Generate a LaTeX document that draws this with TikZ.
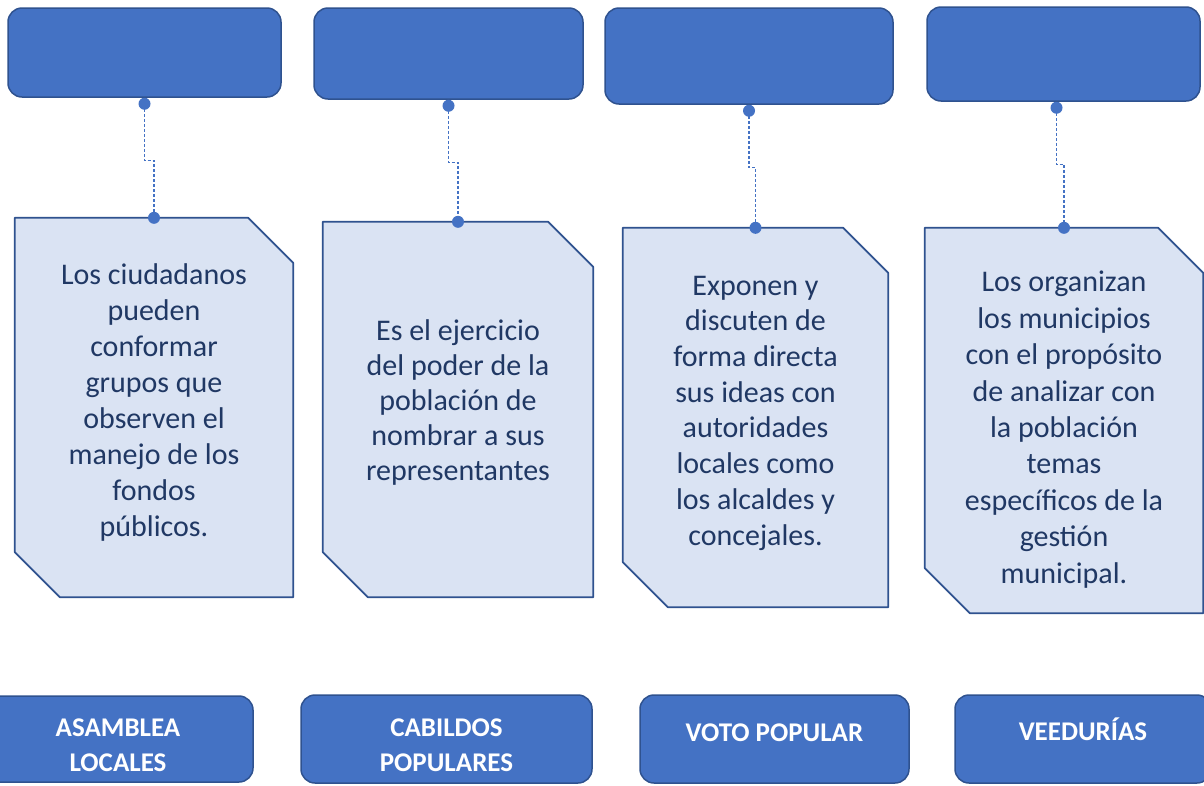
\documentclass[tikz,border=0pt]{standalone}
\usepackage{fontspec}
\setmainfont{Carlito}
\definecolor{boxblue}{RGB}{68,114,196}
\definecolor{boxedge}{RGB}{47,82,143}
\definecolor{notefill}{RGB}{218,227,243}
\definecolor{noteedge}{RGB}{47,82,143}
\definecolor{notetext}{RGB}{32,56,100}
\begin{document}
\begin{tikzpicture}[
	x=1pt, y=-1pt,
	topbox/.style={shape=rectangle, rounded corners=14pt, fill=boxblue, draw=boxedge, line width=1.5pt, inner sep=0pt},
	labeltext/.style={text=white, align=center, inner sep=0pt, font=\bfseries\fontsize{27}{35}\selectfont},
	note/.style={shape=rectangle, inner sep=0pt},
	notebg/.style={fill=notefill, draw=noteedge, line width=1.8pt, line join=round},
	notetxt/.style={align=center, inner sep=0pt, text=notetext},
	link/.style={draw=boxblue, line width=1.2pt, dash pattern=on 3pt off 2pt},
]
\clip (0,0) rectangle (1204,785);
\fill[white] (0,0) rectangle (1204,785);

\node[topbox, minimum width=273pt, minimum height=89pt] (t1) at (144.5,52.5) {};
\node[topbox, minimum width=269pt, minimum height=91pt] (t2) at (448.5,53.5) {};
\node[topbox, minimum width=288pt, minimum height=96pt] (t3) at (749,56) {};
\node[topbox, minimum width=273pt, minimum height=94pt] (t4) at (1063.5,54) {};

\node[note, minimum width=278pt, minimum height=379pt] (n1) at (154,407.5) {};
\node[note, minimum width=270pt, minimum height=375pt] (n2) at (458,409.5) {};
\node[note, minimum width=265pt, minimum height=379pt] (n3) at (755.5,417.5) {};
\node[note, minimum width=278pt, minimum height=385pt] (n4) at (1064,420.5) {};

\foreach \n in {n1,n2,n3,n4}
  \draw[notebg] (\n.north west) -- ([xshift=-45pt]\n.north east) -- ([yshift=-45pt]\n.north east) -- (\n.south east) -- ([xshift=45pt]\n.south west) -- ([yshift=45pt]\n.south west) -- cycle;

\node[notetxt, font=\fontsize{30}{36}\selectfont] (n1txt) at ([yshift=5pt]n1.center) {Los ciudadanos\\pueden\\conformar\\grupos que\\observen el\\manejo de los\\fondos\\públicos.};
\node[notetxt, font=\fontsize{30}{35}\selectfont] (n2txt) at ([yshift=7pt]n2.center) {Es el ejercicio\\del poder de la\\población de\\nombrar a sus\\representantes};
\node[notetxt, font=\fontsize{30}{35.7}\selectfont] (n3txt) at ([yshift=4.5pt]n3.center) {Exponen y\\discuten de\\forma directa\\sus ideas con\\autoridades\\locales como\\los alcaldes y\\concejales.};
\node[notetxt, font=\fontsize{30}{36.4}\selectfont] (n4txt) at ([yshift=-9pt]n4.center) {Los organizan\\los municipios\\con el propósito\\de analizar con\\la población\\temas\\específicos de la\\gestión\\municipal.};

\node[topbox, minimum width=270pt, minimum height=86pt] (b1) at (118,739) {};
\node[topbox, minimum width=291pt, minimum height=88pt] (b2) at (446.5,739) {};
\node[topbox, minimum width=269pt, minimum height=88pt] (b3) at (774.5,739) {};
\node[topbox, minimum width=256pt, minimum height=88pt] (b4) at (1083,739) {};
\node[labeltext] (b1txt) at ([yshift=-6pt]b1.center) {ASAMBLEA\\LOCALES};
\node[labeltext] (b2txt) at ([yshift=-6pt]b2.center) {CABILDOS\\POPULARES};
\node[labeltext] (b3txt) at ([yshift=6pt]b3.center) {VOTO POPULAR};
\node[labeltext] (b4txt) at ([yshift=10pt]b4.center) {VEEDURÍAS};

\coordinate (d1) at ([yshift=-6pt]t1.south);
\coordinate (d2) at ([yshift=-6pt]t2.south);
\coordinate (d3) at ([yshift=-6pt]t3.south);
\coordinate (d4) at ([xshift=-7pt,yshift=-6pt]t4.south);

\foreach \i in {1,2,3,4} {
  \draw[link] (d\i) -- ++(0,57) -| (n\i.north);
  \fill[boxblue] (d\i) circle (6pt);
  \fill[boxblue] (n\i.north) circle (6pt);
}
\end{tikzpicture}
\end{document}
